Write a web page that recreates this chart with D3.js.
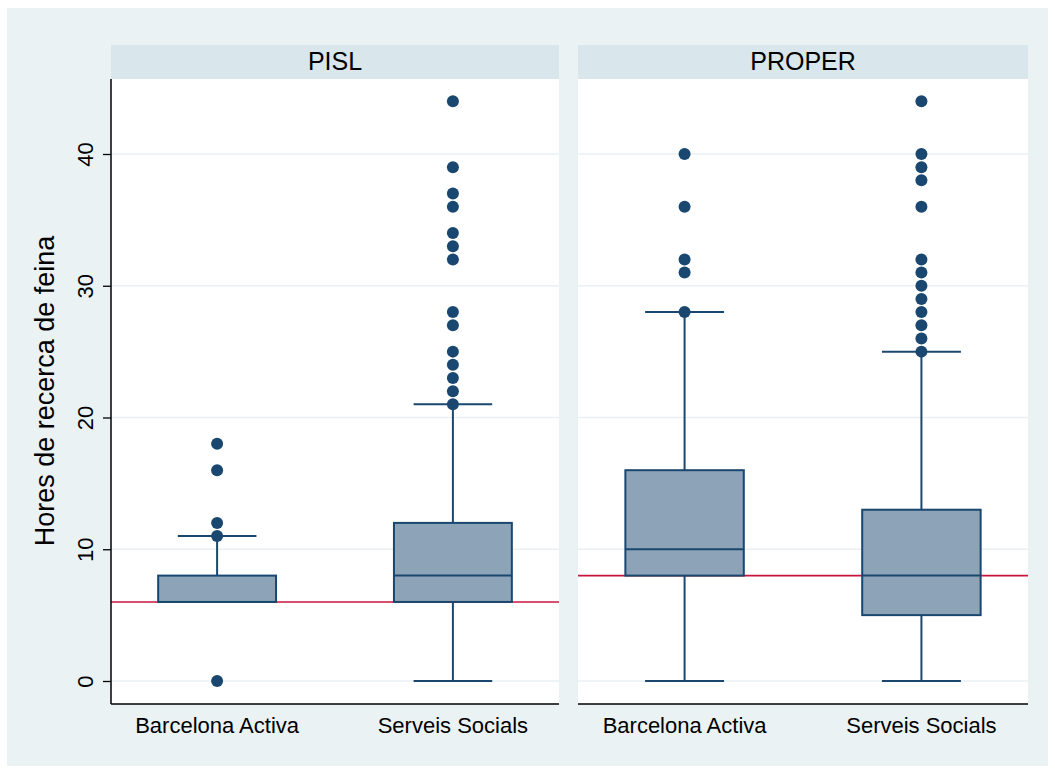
<!DOCTYPE html>
<html>
<head>
<meta charset="utf-8">
<script src="https://cdn.jsdelivr.net/npm/d3@7"></script>
<style>
  html, body { margin: 0; padding: 0; background: #ffffff; }
  svg { display: block; font-family: "Liberation Sans", Arial, Helvetica, sans-serif; }
</style>
</head>
<body>
<svg id="chart" width="1055" height="771"></svg>
<script>
// Programs (panels) and service categories
const panels = ["PISL", "PROPER"];
const categories = ["Barcelona Activa", "Serveis Socials"];

// Box summaries per panel, in category order: [lower whisker, q1, median, q3, upper whisker]
const pislStats = [[6, 6, 6, 8, 11], [0, 6, 8, 12, 21]];
const properStats = [[0, 8, 10, 16, 28], [0, 5, 8, 13, 25]];

// Outside values per panel, in category order
const pislOutliers = [
  [0, 11, 12, 16, 18],
  [21, 22, 23, 24, 25, 27, 28, 32, 33, 34, 36, 37, 39, 44]
];
const properOutliers = [
  [28, 31, 32, 36, 40],
  [25, 26, 27, 28, 29, 30, 31, 32, 36, 38, 39, 40, 44]
];

// Reference line per panel
const refValues = [6, 8];

const yTicks = [0, 10, 20, 30, 40];
const yTitle = "Hores de recerca de feina";

const statsByPanel = [pislStats, properStats];
const outliersByPanel = [pislOutliers, properOutliers];

const navy = "#1a476f";
const boxFill = "#8da3b7";
const refColor = "#c8173f";
const gridColor = "#eaf0f3";

const svg = d3.select("#chart");

// Outer background
svg.append("rect").attr("x", 7).attr("y", 8).attr("width", 1041).attr("height", 758).attr("fill", "#eaf2f3");

const plotTop = 79, plotBottom = 704, stripTop = 45;
const panelX = [[111, 559], [578, 1028]];

const y = d3.scaleLinear().domain([0, 40]).range([681, 154]);

panelX.forEach(([x0, x1], pi) => {
  const g = svg.append("g");
  // strip
  g.append("rect").attr("x", x0).attr("y", stripTop).attr("width", x1 - x0).attr("height", plotTop - stripTop).attr("fill", "#d9e6eb");
  g.append("text").attr("x", (x0 + x1) / 2).attr("y", 70).attr("text-anchor", "middle")
    .attr("font-size", 25).attr("fill", "#000").text(panels[pi]);
  // plot area
  g.append("rect").attr("x", x0).attr("y", plotTop).attr("width", x1 - x0).attr("height", plotBottom - plotTop).attr("fill", "#ffffff");

  // grid lines
  g.selectAll(".grid").data(yTicks).join("line")
    .attr("x1", x0).attr("x2", x1).attr("y1", d => y(d)).attr("y2", d => y(d))
    .attr("stroke", gridColor).attr("stroke-width", 1.5);

  const x = d3.scalePoint().domain(categories).range([x0, x1]).padding(0.45);
  const step = x.step();
  const boxW = step * 0.5;
  const capW = step / 3;

  // reference line
  g.append("line").attr("x1", x0).attr("x2", x1)
    .attr("y1", y(refValues[pi])).attr("y2", y(refValues[pi]))
    .attr("stroke", refColor).attr("stroke-width", 1.6);

  categories.forEach((c, ci) => {
    const [lo, q1, med, q3, hi] = statsByPanel[pi][ci];
    const cx = x(c);
    const bg = g.append("g");
    // whiskers
    bg.append("line").attr("x1", cx).attr("x2", cx).attr("y1", y(q3)).attr("y2", y(hi))
      .attr("stroke", navy).attr("stroke-width", 2);
    bg.append("line").attr("x1", cx).attr("x2", cx).attr("y1", y(q1)).attr("y2", y(lo))
      .attr("stroke", navy).attr("stroke-width", 2);
    bg.append("line").attr("x1", cx - capW / 2).attr("x2", cx + capW / 2).attr("y1", y(hi)).attr("y2", y(hi))
      .attr("stroke", navy).attr("stroke-width", 2);
    if (lo < q1) {
      bg.append("line").attr("x1", cx - capW / 2).attr("x2", cx + capW / 2).attr("y1", y(lo)).attr("y2", y(lo))
        .attr("stroke", navy).attr("stroke-width", 2);
    }
    // box
    bg.append("rect").attr("x", cx - boxW / 2).attr("y", y(q3)).attr("width", boxW)
      .attr("height", y(q1) - y(q3)).attr("fill", boxFill).attr("stroke", navy).attr("stroke-width", 2);
    bg.append("line").attr("x1", cx - boxW / 2).attr("x2", cx + boxW / 2).attr("y1", y(med)).attr("y2", y(med))
      .attr("stroke", navy).attr("stroke-width", 2);
    // outside values
    bg.selectAll("circle").data(outliersByPanel[pi][ci]).join("circle")
      .attr("cx", cx).attr("cy", d => y(d)).attr("r", 6).attr("fill", navy);
  });

  // x axis line and labels
  g.append("line").attr("x1", x0).attr("x2", x1).attr("y1", plotBottom).attr("y2", plotBottom)
    .attr("stroke", "#000").attr("stroke-width", 1.5);
  g.selectAll(".xl").data(categories).join("text")
    .attr("x", d => x(d)).attr("y", 733).attr("text-anchor", "middle")
    .attr("font-size", 22).attr("fill", "#000").text(d => d);
});

// y axis on the first panel
const yAxis = d3.axisLeft(y).tickValues(yTicks).tickSize(8).tickPadding(6).tickFormat(d3.format("d"));
const ya = svg.append("g").attr("transform", `translate(${panelX[0][0]},0)`).call(yAxis);
ya.select(".domain").attr("d", `M0,${plotTop}V${plotBottom}`).attr("stroke", "#000").attr("stroke-width", 1.5);
ya.selectAll(".tick line").attr("stroke", "#000").attr("stroke-width", 1.3);
ya.selectAll(".tick text")
  .attr("font-size", 22).attr("fill", "#000").attr("font-family", "Liberation Sans, Arial, sans-serif")
  .attr("x", null).attr("dy", null)
  .attr("text-anchor", "middle")
  .attr("transform", "translate(-26,0) rotate(-90)")
  .attr("y", 0).attr("dy", "0.35em");

svg.append("text")
  .attr("transform", `translate(54,391) rotate(-90)`)
  .attr("text-anchor", "middle").attr("font-size", 27).attr("fill", "#000")
  .text(yTitle);
</script>
</body>
</html>
